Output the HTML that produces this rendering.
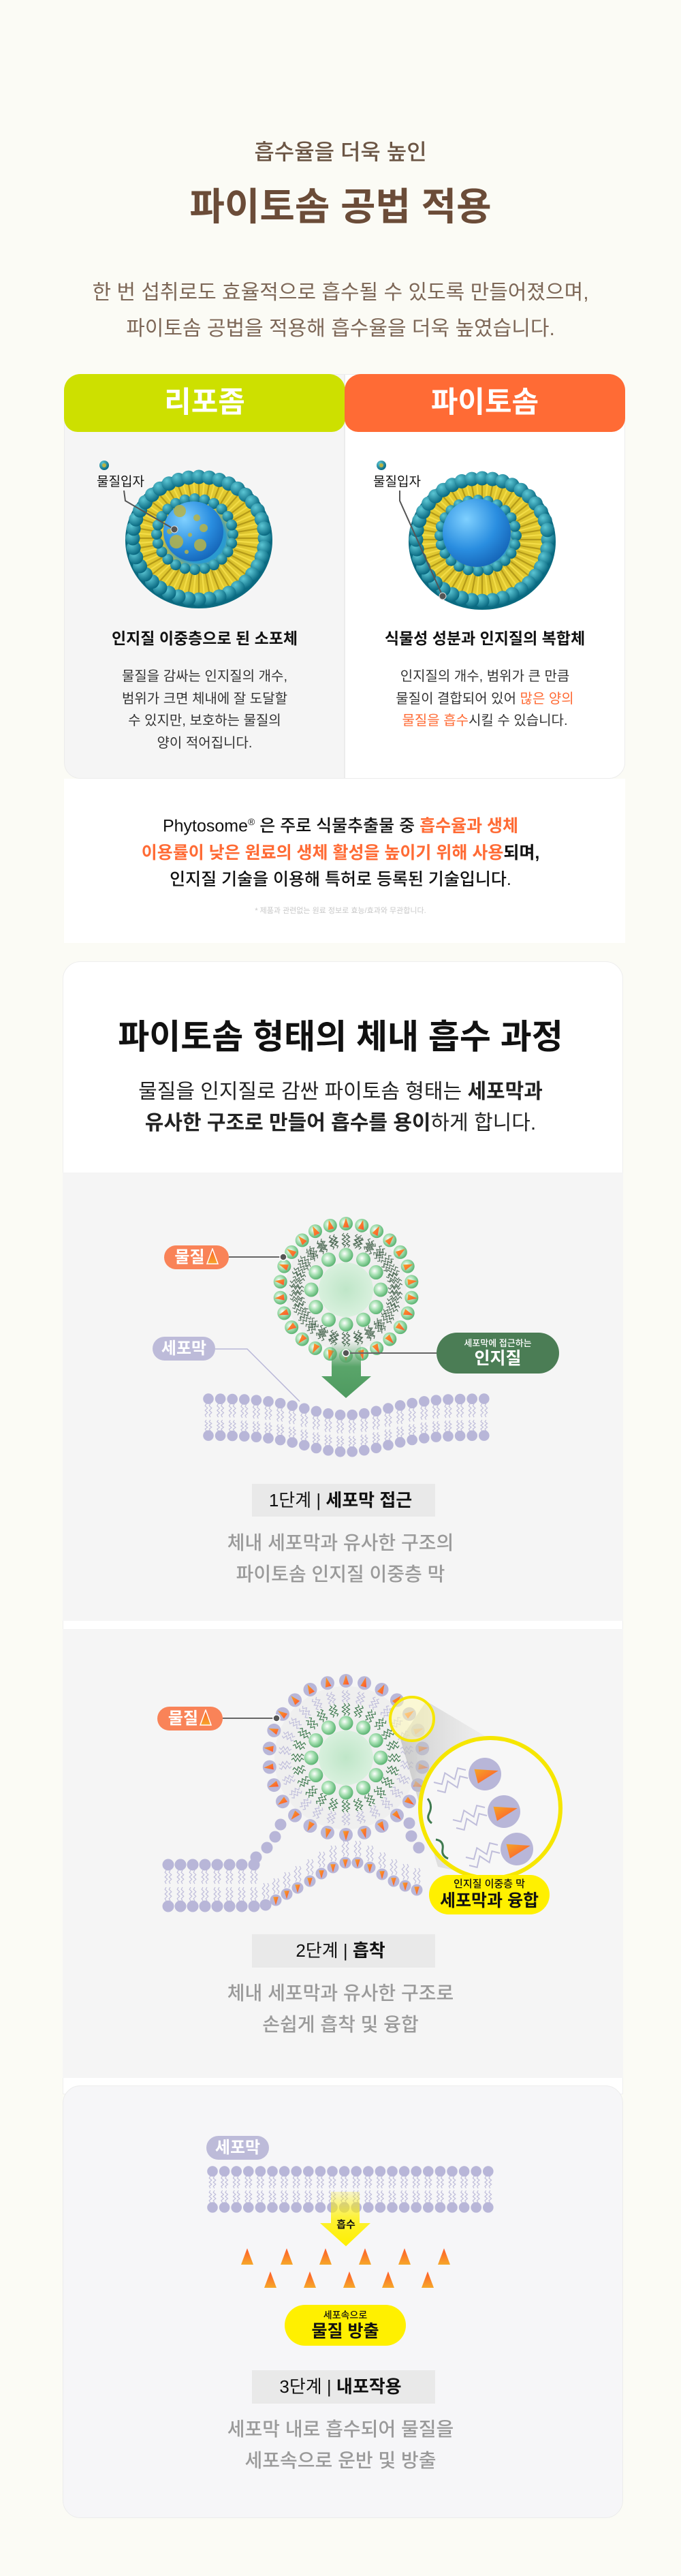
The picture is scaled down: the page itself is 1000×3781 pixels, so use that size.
<!DOCTYPE html>
<html><head><meta charset="utf-8">
<style>
*{margin:0;padding:0;box-sizing:border-box}
html,body{width:1000px;height:3781px;background:#fbfbf5;overflow:hidden}
body{position:relative;font-family:"Liberation Sans","Noto Sans CJK KR",sans-serif;color:#111}
.a{position:absolute}
.c{position:absolute;left:0;width:1000px;text-align:center;white-space:nowrap}
.box{position:absolute}
.pill{position:absolute;border-radius:40px;color:#fff;font-weight:700;text-align:center;white-space:nowrap}
.o{color:#ff6b35}
svg{position:absolute;left:0;top:0}
</style></head><body>

<!-- backgrounds -->
<div class="box" style="left:94px;top:549px;width:412px;height:594px;background:#f5f5f5;border-radius:24px 0 0 24px;border:1px solid #ececec"></div>
<div class="box" style="left:506px;top:549px;width:412px;height:594px;background:#fff;border-radius:0 24px 24px 0;border:1px solid #ececec"></div>
<div class="box" style="left:94px;top:549px;width:413px;height:85px;background:#cde000;border-radius:24px 24px 20px 20px"></div>
<div class="box" style="left:506px;top:549px;width:412px;height:85px;background:#ff6b35;border-radius:24px 24px 20px 20px"></div>
<div class="box" style="left:94px;top:1143px;width:824px;height:241px;background:#fff"></div>

<div class="box" style="left:92px;top:1411px;width:823px;height:1663px;background:#fff;border-radius:26px 26px 0 0;border:1px solid #eee"></div>
<div class="box" style="left:92px;top:1721px;width:823px;height:658px;background:#f5f5f5"></div>
<div class="box" style="left:92px;top:2391px;width:823px;height:659px;background:#f5f5f5"></div>
<div class="box" style="left:92px;top:3061px;width:823px;height:635px;background:#f6f6f8;border-radius:26px;border:1px solid #ececec"></div>

<div class="box" style="left:370px;top:2178px;width:269px;height:48px;background:#e9e9e9"></div>
<div class="box" style="left:370px;top:2839px;width:269px;height:49px;background:#e9e9e9"></div>
<div class="box" style="left:370px;top:3479px;width:269px;height:49px;background:#e9e9e9"></div>

<svg id="g" width="1000" height="3781" viewBox="0 0 1000 3781">
<defs>
<radialGradient id="tb" cx="35%" cy="30%" r="70%"><stop offset="0" stop-color="#5cc6d4"/><stop offset="1" stop-color="#0a6a82"/></radialGradient>
<radialGradient id="core" cx="35%" cy="30%" r="75%"><stop offset="0" stop-color="#7fd0ff"/><stop offset="0.6" stop-color="#2a8ee0"/><stop offset="1" stop-color="#1565b8"/></radialGradient>
<radialGradient id="yl" cx="50%" cy="50%" r="50%"><stop offset="0.4" stop-color="#2a9ad0"/><stop offset="0.55" stop-color="#d8c030"/><stop offset="1" stop-color="#e8cf30"/></radialGradient>
<radialGradient id="gb" cx="40%" cy="40%" r="60%"><stop offset="0" stop-color="#ffffff"/><stop offset="0.5" stop-color="#a6e0b2"/><stop offset="1" stop-color="#5db574"/></radialGradient>
<radialGradient id="glow" cx="50%" cy="50%" r="50%"><stop offset="0" stop-color="#bfe6c8"/><stop offset="1" stop-color="#d8f0dd"/></radialGradient>
<linearGradient id="org" x1="0" y1="0" x2="1" y2="1"><stop offset="0" stop-color="#f5a626"/><stop offset="1" stop-color="#ff4f30"/></linearGradient>
<linearGradient id="cone" x1="0" y1="0" x2="0" y2="1"><stop offset="0" stop-color="#ff5a2a"/><stop offset="1" stop-color="#f6a82a"/></linearGradient>
<linearGradient id="garrow" x1="0" y1="0" x2="0" y2="1"><stop offset="0" stop-color="#5aa56a" stop-opacity="0"/><stop offset="0.45" stop-color="#5aa56a"/><stop offset="1" stop-color="#4e9a60"/></linearGradient>
<linearGradient id="yarrow" x1="0" y1="0" x2="0" y2="1"><stop offset="0" stop-color="#fff000" stop-opacity="0.2"/><stop offset="0.5" stop-color="#fff000" stop-opacity="0.8"/><stop offset="1" stop-color="#fff000"/></linearGradient>
<linearGradient id="cz" x1="0" y1="0" x2="1" y2="0"><stop offset="0" stop-color="#bbb" stop-opacity="0.7"/><stop offset="1" stop-color="#ddd" stop-opacity="0.2"/></linearGradient>
</defs>
</svg>

<!-- top texts -->
<div class="c" style="top:203px;font-size:32px;line-height:40px;color:#6b5544;font-weight:500">흡수율을 더욱 높인</div>
<div class="c" style="top:270px;font-size:56px;line-height:68px;color:#6b4c38;font-weight:700">파이토솜 공법 적용</div>
<div class="c" style="top:403px;font-size:30px;line-height:53px;color:#7d6757">한 번 섭취로도 효율적으로 흡수될 수 있도록 만들어졌으며,<br>파이토솜 공법을 적용해 흡수율을 더욱 높였습니다.</div>

<div class="a" style="left:94px;width:413px;top:566px;text-align:center;font-size:43px;line-height:50px;color:#fff;font-weight:700">리포좀</div>
<div class="a" style="left:506px;width:412px;top:566px;text-align:center;font-size:43px;line-height:50px;color:#fff;font-weight:700">파이토솜</div>

<div class="a" style="left:142px;top:696px;font-size:19px;line-height:24px">물질입자</div>
<div class="a" style="left:548px;top:696px;font-size:19px;line-height:24px">물질입자</div>

<div class="a" style="left:94px;width:413px;top:922px;text-align:center;font-size:23px;line-height:30px;font-weight:700">인지질 이중층으로 된 소포체</div>
<div class="a" style="left:506px;width:412px;top:922px;text-align:center;font-size:23px;line-height:30px;font-weight:700">식물성 성분과 인지질의 복합체</div>
<div class="a" style="left:94px;width:413px;top:977px;text-align:center;font-size:20px;line-height:32.5px;color:#333">물질을 감싸는 인지질의 개수,<br>범위가 크면 체내에 잘 도달할<br>수 있지만, 보호하는 물질의<br>양이 적어집니다.</div>
<div class="a" style="left:506px;width:412px;top:977px;text-align:center;font-size:20px;line-height:32.5px;color:#333">인지질의 개수, 범위가 큰 만큼<br>물질이 결합되어 있어 <span class="o">많은 양의</span><br><span class="o">물질을 흡수</span>시킬 수 있습니다.</div>

<div class="c" style="top:1187px;font-size:25px;line-height:39.5px;font-weight:500">Phytosome<sup style="font-size:14px">®</sup> 은 주로 식물추출물 중 <b class="o">흡수율과 생체</b><br><b class="o">이용률이 낮은 원료의 생체 활성을 높이기 위해 사용</b><b>되며,</b><br>인지질 기술을 이용해 특허로 등록된 기술입니다.</div>
<div class="c" style="top:1330px;font-size:11px;line-height:14px;color:#c8c8c8">* 제품과 관련없는 원료 정보로 효능/효과와 무관합니다.</div>

<!-- card 2 texts -->
<div class="c" style="top:1490px;font-size:50px;line-height:64px;font-weight:700">파이토솜 형태의 체내 흡수 과정</div>
<div class="c" style="top:1580px;font-size:30px;line-height:46px;color:#222">물질을 인지질로 감싼 파이토솜 형태는 <b>세포막과</b><br><b>유사한 구조로 만들어 흡수를 용이</b>하게 합니다.</div>

<div class="pill" style="left:241px;top:1828px;width:95px;height:35px;background:#f98358;font-size:24px;line-height:35px">물질<svg style="position:relative;display:inline-block;vertical-align:-3px;margin-left:2px" width="18" height="24"><polygon points="9,1 17,23 1,23" fill="url(#cone)" stroke="#fff" stroke-width="1.5"/></svg></div>
<div class="pill" style="left:224px;top:1962px;width:92px;height:35px;background:#bdbbd9;font-size:24px;line-height:35px">세포막</div>
<div class="pill" style="left:641px;top:1956px;width:180px;height:60px;background:#4b7d55"><div style="font-size:13px;line-height:16px;margin-top:8px;font-weight:500">세포막에 접근하는</div><div style="font-size:25px;line-height:28px">인지질</div></div>

<div class="c" style="top:2185px;font-size:26px;line-height:34px">1단계 | <b>세포막 접근</b></div>
<div class="c" style="top:2242px;font-size:28px;line-height:46px;color:#9a9a9a;font-weight:500">체내 세포막과 유사한 구조의<br>파이토솜 인지질 이중층 막</div>

<div class="pill" style="left:231px;top:2505px;width:96px;height:35px;background:#f98358;font-size:24px;line-height:35px">물질<svg style="position:relative;display:inline-block;vertical-align:-3px;margin-left:2px" width="18" height="24"><polygon points="9,1 17,23 1,23" fill="url(#cone)" stroke="#fff" stroke-width="1.5"/></svg></div>

<div class="c" style="top:2846px;font-size:26px;line-height:34px">2단계 | <b>흡착</b></div>
<div class="c" style="top:2903px;font-size:28px;line-height:46px;color:#9a9a9a;font-weight:500">체내 세포막과 유사한 구조로<br>손쉽게 흡착 및 융합</div>

<div class="pill" style="left:303px;top:3135px;width:92px;height:35px;background:#bdbbd9;font-size:24px;line-height:35px">세포막</div>

<div class="c" style="top:3486px;font-size:26px;line-height:34px">3단계 | <b>내포작용</b></div>
<div class="c" style="top:3543px;font-size:28px;line-height:46px;color:#9a9a9a;font-weight:500">세포막 내로 흡수되어 물질을<br>세포속으로 운반 및 방출</div>

<script>
(function(){
const NS='http://www.w3.org/2000/svg';
const svg=document.getElementById('g');
function el(t,a,p){const e=document.createElementNS(NS,t);for(const k in a)e.setAttribute(k,a[k]);(p||svg).appendChild(e);return e;}
function zig(x1,y1,x2,y2,amp,n,col,w){
  const dx=x2-x1,dy=y2-y1,L=Math.hypot(dx,dy),px=-dy/L,py=dx/L;let pts=[];
  for(let i=0;i<=n;i++){const t=i/n;const s=(i%2?1:-1)*amp*(i==0||i==n?0:1);pts.push((x1+dx*t+px*s).toFixed(1)+','+(y1+dy*t+py*s).toFixed(1));}
  el('polyline',{points:pts.join(' '),fill:'none',stroke:col,'stroke-width':w||1.2});
}
function tail(x1,y1,x2,y2,col,amp){
  const dx=x2-x1,dy=y2-y1,L=Math.hypot(dx,dy),px=-dy/L*3,py=dx/L*3;
  zig(x1+px,y1+py,x2+px,y2+py,amp||2.5,6,col);zig(x1-px,y1-py,x2-px,y2-py,amp||2.5,6,col);
}
function headTri(x,y,r,ang,fill){ // ang direction the triangle points (radians)
  el('circle',{cx:x,cy:y,r:r,fill:fill});
  const c=Math.cos(ang),s=Math.sin(ang);
  const tip=[x+c*r*0.85,y+s*r*0.85];const bx=x-c*r*0.55,by=y-s*r*0.55;
  const p1=[bx-s*r*0.45,by+c*r*0.45],p2=[bx+s*r*0.45,by-c*r*0.45];
  el('polygon',{points:[tip,p1,p2].map(p=>p[0].toFixed(1)+','+p[1].toFixed(1)).join(' '),fill:'url(#org)'});
}
function cone(x,y){el('polygon',{points:`${x},${y} ${x+9},${y+24} ${x-9},${y+24}`,fill:'url(#cone)'});}

// ---------- liposome spheres ----------
function lipo(cx,cy,core,cr,spots){
  el('ellipse',{cx:cx,cy:cy+3,rx:108,ry:100,fill:'#0b6a80'});
  el('ellipse',{cx:cx,cy:cy,rx:98,ry:90,fill:'url(#yl)'});
  for(let i=0;i<72;i++){const a=i/72*Math.PI*2;
    el('line',{x1:cx+Math.cos(a)*55,y1:cy+Math.sin(a)*50,x2:cx+Math.cos(a)*92,y2:cy+Math.sin(a)*85,stroke:i%2?'#f3dc46':'#b49a18','stroke-width':2.2});}
  for(let i=0;i<40;i++){const a=i/40*Math.PI*2;
    el('circle',{cx:cx+Math.cos(a)*97,cy:cy+Math.sin(a)*90,r:10.5,fill:'url(#tb)'});}
  for(let i=0;i<24;i++){const a=i/24*Math.PI*2;
    el('circle',{cx:cx-6+Math.cos(a)*56,cy:cy-6+Math.sin(a)*52,r:8,fill:'url(#tb)'});}
  el('circle',{cx:cx-8,cy:cy-10,r:cr,fill:'url(#core)'});
  if(spots){[[-20,-30,9],[5,-20,5],[-35,0,4],[15,-5,6],[-25,15,10],[10,20,9],[-5,5,3],[-10,30,3]].forEach(s=>el('circle',{cx:cx-8+s[0],cy:cy-10+s[1],r:s[2],fill:'#b7b345','fill-opacity':0.85}));}
}
lipo(292,790,'',44,true);
lipo(708,792,'',50,false);
// particle dots
el('circle',{cx:153,cy:683,r:7,fill:'url(#tb)'});el('circle',{cx:153,cy:683,r:3,fill:'#b7b345'});
el('circle',{cx:560,cy:683,r:7,fill:'url(#tb)'});el('circle',{cx:560,cy:683,r:3,fill:'#b7b345'});
// leaders
el('polyline',{points:'182,720 184,735 256,777',fill:'none',stroke:'#555','stroke-width':2});
el('circle',{cx:256,cy:777,r:5,fill:'#555',stroke:'#ddd','stroke-width':1});
el('polyline',{points:'587,720 587,735 650,875',fill:'none',stroke:'#555','stroke-width':2});
el('circle',{cx:650,cy:875,r:5,fill:'#555',stroke:'#ddd','stroke-width':1});

// ---------- process vesicle ----------
function vesicle(cx,cy,R,headFill,innerTail,outerTail){
  el('circle',{cx:cx,cy:cy,r:R-8,fill:'#efefef'});
  el('circle',{cx:cx,cy:cy,r:40,fill:'url(#glow)'});
  const n=26;
  for(let i=0;i<n;i++){const a=i/n*Math.PI*2-Math.PI/2;
    tail(cx+Math.cos(a)*(R-14),cy+Math.sin(a)*(R-14),cx+Math.cos(a)*(R-32),cy+Math.sin(a)*(R-32),outerTail);}
  for(let i=0;i<24;i++){const a=i/24*Math.PI*2;
    tail(cx+Math.cos(a)*62,cy+Math.sin(a)*62,cx+Math.cos(a)*80,cy+Math.sin(a)*80,innerTail);}
  for(let i=0;i<12;i++){const a=i/12*Math.PI*2-Math.PI/2;
    el('circle',{cx:cx+Math.cos(a)*51,cy:cy+Math.sin(a)*51,r:10.5,fill:'url(#gb)'});}
  for(let i=0;i<n;i++){const a=i/n*Math.PI*2-Math.PI/2;
    headTri(cx+Math.cos(a)*R,cy+Math.sin(a)*R,10,a,headFill);}
}
vesicle(508,1893,97,'url(#gb)','#55705c','#55705c');
// green arrow
el('polygon',{points:'487,1968 530,1968 530,2020 545,2020 508,2052 472,2020 487,2020',fill:'url(#garrow)'});
// membrane 1
for(let i=0;i<24;i++){const x=306+i*17.6;const d=24*Math.exp(-Math.pow((x-508)/85,2));
  tail(x,2060+d,x,2080+d,'#c0bedb',1.8);tail(x,2084+d,x,2100+d,'#c0bedb',1.8);
  el('circle',{cx:x,cy:2053+d,r:7.8,fill:'#b8b6d8'});el('circle',{cx:x,cy:2107+d,r:7.8,fill:'#b8b6d8'});}
// leaders 1
el('line',{x1:336,y1:1845,x2:416,y2:1845,stroke:'#666','stroke-width':2});
el('circle',{cx:416,cy:1845,r:5,fill:'#555',stroke:'#fff','stroke-width':1.5});
el('polyline',{points:'316,1980 363,1980 440,2057',fill:'none',stroke:'#b8b6d8','stroke-width':1.5});
el('line',{x1:508,y1:1986,x2:641,y2:1986,stroke:'#666','stroke-width':2});
el('circle',{cx:508,cy:1986,r:5,fill:'#555',stroke:'#fff','stroke-width':1.5});

// ---------- vesicle 2 + fusion ----------
// flat left bilayer
for(let i=0;i<8;i++){const x=247+i*18;
  tail(x,2745,x,2765,'#c0bedb',1.8);tail(x,2770,x,2790,'#c0bedb',1.8);
  el('circle',{cx:x,cy:2737,r:8.5,fill:'#b8b6d8'});el('circle',{cx:x,cy:2798,r:8.5,fill:'#b8b6d8'});}
// rising top layer (left and right)
[[376,2726],[392,2712],[404,2696],[412,2678],[601,2676],[604,2695],[615,2712]].forEach(p=>el('circle',{cx:p[0],cy:p[1],r:8.5,fill:'#b8b6d8'}));
// arch bottom layer
[[390,2796],[405,2789],[421,2780],[437,2771],[455,2761],[472,2750],[489,2741],[507,2734],[525,2734],[543,2741],[561,2751],[578,2761],[595,2768],[612,2774]].forEach((p,i)=>{
  tail(p[0],p[1]-9,p[0],p[1]-32,'#c0bedb',1.8);
  if(i==0)el('circle',{cx:p[0],cy:p[1],r:8.5,fill:'#b8b6d8'});else headTri(p[0],p[1],8.5,Math.PI/2,'#b8b6d8');});
vesicle(508,2580,113,'#b8b6d8','#3f7a4f','#c0bedb');
// cone to big circle
el('polygon',{points:'626,2497 727,2557 690,2750 643,2740 588,2553',fill:'url(#cz)'});
el('circle',{cx:605,cy:2523,r:32,fill:'#fff9b8','fill-opacity':0.55,stroke:'#f6e600','stroke-width':4});
el('circle',{cx:720,cy:2654,r:103,fill:'#f7f7f7',stroke:'#f6e600','stroke-width':6});
[[712,2604],[740,2659],[759,2714]].forEach(p=>{headTri(p[0],p[1],24,-0.25,'#b8b6d8');
  zig(p[0]-75,p[1]+12,p[0]-28,p[1]-6,7,5,'#c0bedb',2);zig(p[0]-70,p[1]+24,p[0]-25,p[1]+6,7,5,'#c0bedb',2);});
el('path',{d:'M628 2640 q8 10 2 22 q-4 8 4 14',fill:'none',stroke:'#3f7a4f','stroke-width':3});
el('path',{d:'M640 2700 q12 2 10 14 q-2 10 8 14',fill:'none',stroke:'#3f7a4f','stroke-width':3});
el('line',{x1:327,y1:2522,x2:406,y2:2522,stroke:'#666','stroke-width':2});
el('circle',{cx:406,cy:2522,r:5,fill:'#555',stroke:'#fff','stroke-width':1.5});

// ---------- membrane 3 ----------
for(let i=0;i<24;i++){const x=312+i*17.6;
  tail(x,3194,x,3212,'#c0bedb',1.8);tail(x,3215,x,3233,'#c0bedb',1.8);
  el('circle',{cx:x,cy:3187,r:7.8,fill:'#b8b6d8'});el('circle',{cx:x,cy:3240,r:7.8,fill:'#b8b6d8'});}
el('polygon',{points:'486,3217 528,3217 528,3263 544,3263 508,3297 470,3263 486,3263',fill:'url(#yarrow)'});
[363,421,478,536,594,652].forEach(x=>cone(x,3300));
[397,455,513,570,628].forEach(x=>cone(x,3334));
})();
</script>

<div class="pill" style="left:630px;top:2752px;width:177px;height:58px;background:#fff000;color:#111"><div style="font-size:15px;line-height:18px;margin-top:5px;font-weight:500">인지질 이중층 막</div><div style="font-size:25px;line-height:30px">세포막과 융합</div></div>
<div class="a" style="left:458px;width:100px;top:3256px;text-align:center;font-size:15px;line-height:20px;font-weight:700">흡수</div>
<div class="pill" style="left:418px;top:3383px;width:178px;height:60px;background:#fff000;color:#111"><div style="font-size:14px;line-height:18px;margin-top:6px;font-weight:500">세포속으로</div><div style="font-size:25px;line-height:30px">물질 방출</div></div>

</body></html>
